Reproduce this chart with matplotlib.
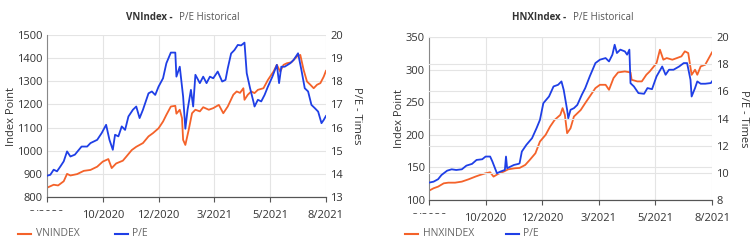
import matplotlib
matplotlib.use("Agg")
import matplotlib.pyplot as plt
from matplotlib.patches import Rectangle

plt.rcParams["font.family"] = ["Open Sans", "DejaVu Sans"]

# x positions are trading sessions, ticks every 50 sessions
tick_pos = [0, 50, 100, 150, 200, 250]
tick_labels = ["8/2020", "10/2020", "12/2020", "3/2021", "5/2021", "8/2021"]

# ---- VNIndex ----
vn_idx_x = [0, 6, 10, 15, 18, 21, 27, 33, 39, 45, 50, 55, 58, 62, 68, 71, 76, 80, 86, 91,
            95, 100, 104, 107, 111, 115, 116, 119, 121, 122, 124, 127, 130, 133, 137, 140,
            145, 149, 154, 158, 162, 167, 170, 173, 176, 177, 180, 183, 186, 189, 194, 198,
            203, 206, 209, 212, 215, 219, 224, 227, 230, 233, 236, 239, 242, 245, 248, 250]
vn_idx = [840, 853, 850, 868, 900, 893, 899, 913, 917, 931, 953, 964, 925, 945, 957, 974,
          1003, 1017, 1033, 1062, 1076, 1097, 1126, 1155, 1191, 1194, 1160, 1177, 1141, 1047,
          1025, 1090, 1162, 1177, 1170, 1188, 1177, 1184, 1198, 1162, 1191, 1242, 1256, 1250,
          1270, 1220, 1242, 1256, 1249, 1263, 1270, 1306, 1342, 1371, 1342, 1371, 1378, 1382,
          1407, 1414, 1349, 1299, 1285, 1270, 1285, 1292, 1320, 1345]

vn_pe_x = [0, 3, 6, 9, 12, 15, 18, 21, 25, 31, 36, 39, 45, 49, 53, 56, 59, 61, 64, 67, 70,
           73, 77, 80, 83, 86, 91, 94, 97, 100, 104, 107, 111, 115, 116, 119, 122, 124, 126,
           129, 131, 133, 137, 140, 143, 146, 149, 153, 157, 160, 162, 165, 168, 171, 174,
           177, 179, 182, 185, 186, 189, 192, 195, 198, 202, 206, 208, 210, 213, 218, 221,
           225, 228, 231, 234, 237, 240, 243, 246, 248, 250]
vn_pe = [13.92, 13.96, 14.18, 14.11, 14.32, 14.54, 14.97, 14.75, 14.83, 15.18, 15.18, 15.33,
         15.47, 15.76, 16.12, 15.47, 15.04, 15.69, 15.62, 16.05, 15.90, 16.48, 16.77, 16.91,
         16.41, 16.77, 17.48, 17.56, 17.41, 17.77, 18.13, 18.78, 19.24, 19.24, 18.20, 18.63,
         17.34, 15.95, 16.77, 17.63, 16.91, 18.28, 17.92, 18.20, 17.92, 18.20, 18.13, 18.42,
         17.99, 18.06, 18.56, 19.20, 19.35, 19.57, 19.55, 19.67, 18.35, 17.70, 17.12, 16.91,
         17.20, 17.13, 17.41, 17.77, 18.20, 18.71, 17.92, 18.63, 18.63, 18.78, 18.92, 19.21,
         18.49, 17.70, 17.56, 16.98, 16.84, 16.69, 16.19, 16.33, 16.50]

# ---- HNXIndex ----
hnx_idx_x = [0, 4, 8, 13, 17, 23, 29, 35, 41, 45, 50, 54, 57, 61, 66, 70, 76, 80, 85, 89,
             94, 98, 103, 107, 111, 116, 118, 120, 122, 125, 128, 131, 134, 138, 142, 147,
             151, 156, 159, 163, 167, 173, 178, 179, 184, 188, 192, 195, 201, 204, 207, 210,
             215, 219, 223, 226, 229, 232, 235, 237, 240, 244, 250]
hnx_idx = [114.3, 118, 120.5, 125.6, 126.6, 126.6, 128.2, 131.8, 135.9, 138.4, 141, 142.5,
           135.9, 140, 143.6, 147.1, 148.7, 149.2, 153.8, 161.5, 171.7, 189.7, 199.9, 212.7,
           222.9, 230.6, 240.9, 230.6, 202.5, 210, 228, 233, 238, 248.6, 258.8, 271.6, 276.7,
           276.7, 269, 287, 295.7, 297.2, 295.7, 284.4, 281.9, 281.9, 292.1, 297.2, 310, 330.5,
           315.2, 317.7, 315.2, 317.7, 320.3, 328, 325.4, 292, 299.8, 292.1, 304.9, 307.5, 326.4]

hnx_pe_x = [0, 4, 8, 11, 16, 20, 24, 29, 33, 38, 42, 47, 50, 54, 56, 60, 63, 67, 68, 69, 75,
            79, 80, 82, 86, 91, 95, 98, 101, 106, 110, 114, 117, 119, 122, 123, 125, 128, 131,
            135, 138, 142, 147, 151, 156, 159, 162, 164, 166, 169, 173, 175, 177, 178, 181,
            185, 190, 193, 197, 201, 206, 209, 212, 216, 221, 225, 228, 231, 232, 235, 237,
            240, 244, 249, 250]
hnx_pe = [9.28, 9.35, 9.53, 9.84, 10.16, 10.26, 10.21, 10.26, 10.53, 10.66, 10.95, 11.0,
          11.2, 11.2, 10.83, 9.97, 10.09, 10.21, 11.2, 10.34, 10.58, 10.66, 10.7, 11.57, 12.06,
          12.55, 13.29, 13.9, 15.13, 15.62, 16.36, 16.48, 16.73, 16.1, 14.64, 14.02, 14.64,
          14.76, 15.0, 15.75, 16.24, 17.1, 18.08, 18.33, 18.45, 18.2, 18.7, 19.43, 18.82,
          19.07, 18.94, 18.7, 19.07, 16.6, 16.36, 15.87, 15.82, 16.24, 16.16, 17.1, 17.83,
          17.22, 17.59, 17.59, 17.83, 18.08, 18.08, 16.85, 15.62, 16.24, 16.73, 16.56, 16.56,
          16.61, 16.73]

orange = "#F4622A"
blue = "#1F3FE6"
grid_c = "#e4e4e4"
txt_c = "#333333"


def draw_panel(fig, rect, x1, y1, x2, y2, left_ticks, right_ticks, both_grids, lab_l, lab_r):
    ax = fig.add_axes(rect)
    ax2 = ax.twinx()
    ax2.patch.set_visible(False)

    ax.plot(x1, y1, color=orange, linewidth=1.3)
    ax2.plot(x2, y2, color=blue, linewidth=1.3)

    ax.set_xlim(0, 250)
    ax.set_ylim(left_ticks[0], left_ticks[-1])
    ax2.set_ylim(right_ticks[0], right_ticks[-1])
    ax.set_yticks(left_ticks)
    ax2.set_yticks(right_ticks)
    ax.set_xticks(tick_pos)
    ax.set_xticklabels(tick_labels)

    ax.grid(True, color=grid_c, linewidth=0.8)
    if both_grids:
        ax2.grid(True, axis="y", color=grid_c, linewidth=0.8)
        ax2.set_axisbelow(True)
    for a in (ax, ax2):
        for s in ("top", "right", "left"):
            a.spines[s].set_visible(False)
        a.spines["bottom"].set_color("#555555")
        a.tick_params(axis="y", length=0, labelsize=8, labelcolor=txt_c, pad=3)
    ax.spines["left"].set_visible(True)
    ax.spines["left"].set_color("#888888")
    ax.tick_params(axis="x", length=3.5, color="#555555", labelsize=8, labelcolor=txt_c, pad=6)
    ax.set_ylabel("Index Point", fontsize=8, color=txt_c, va="center")
    ax.yaxis.set_label_coords(lab_l, 0.5)
    ax2.set_ylabel("P/E - Times", fontsize=8, color=txt_c, rotation=270, va="center")
    ax2.yaxis.set_label_coords(lab_r, 0.5)
    return ax


fig = plt.figure(figsize=(7.54, 2.48), dpi=100)

draw_panel(fig, [0.0623, 0.2056, 0.3700, 0.6533], vn_idx_x, vn_idx, vn_pe_x, vn_pe,
           [800, 900, 1000, 1100, 1200, 1300, 1400, 1500],
           [13, 14, 15, 16, 17, 18, 19, 20], False, -0.128, 1.108)
draw_panel(fig, [0.5690, 0.1935, 0.3753, 0.6573], hnx_idx_x, hnx_idx, hnx_pe_x, hnx_pe,
           [100, 150, 200, 250, 300, 350],
           [8, 10, 12, 14, 16, 18, 20], True, -0.106, 1.11)

# titles
fig.text(175 / 754, 1 - 18 / 248, "VNIndex - ", ha="right", va="center", fontsize=7,
         color="#333333", fontweight="bold")
fig.text(179 / 754, 1 - 18 / 248, "P/E Historical", ha="left", va="center", fontsize=7,
         color="#555555")
fig.text(569 / 754, 1 - 17 / 248, "HNXIndex - ", ha="right", va="center", fontsize=7,
         color="#333333", fontweight="bold")
fig.text(573 / 754, 1 - 17 / 248, "P/E Historical", ha="left", va="center", fontsize=7,
         color="#555555")

# legends
for lx, name in ((18, "VNINDEX"), (405, "HNXINDEX")):
    ly = 1 - 234 / 248
    fig.add_artist(plt.Line2D([lx / 754, (lx + 13) / 754], [ly, ly], color=orange,
                              linewidth=1.5, transform=fig.transFigure))
    fig.text((lx + 18) / 754, ly, name, ha="left", va="center", fontsize=7.5, color="#666666")
    px = lx + 97 if name == "VNINDEX" else lx + 101
    fig.add_artist(plt.Line2D([px / 754, (px + 13) / 754], [ly, ly], color=blue,
                              linewidth=1.5, transform=fig.transFigure))
    fig.text((px + 17) / 754, ly, "P/E", ha="left", va="center", fontsize=7.5, color="#666666")

# first x label is partly hidden in the source
for x0, ytop in ((28, 211), (412, 214)):
    fig.add_artist(Rectangle((x0 / 754, 1 - (ytop + 12) / 248), 40 / 754, 12 / 248,
                             transform=fig.transFigure, facecolor="white",
                             edgecolor="none", zorder=10))

fig.savefig("out.png", dpi=100)
